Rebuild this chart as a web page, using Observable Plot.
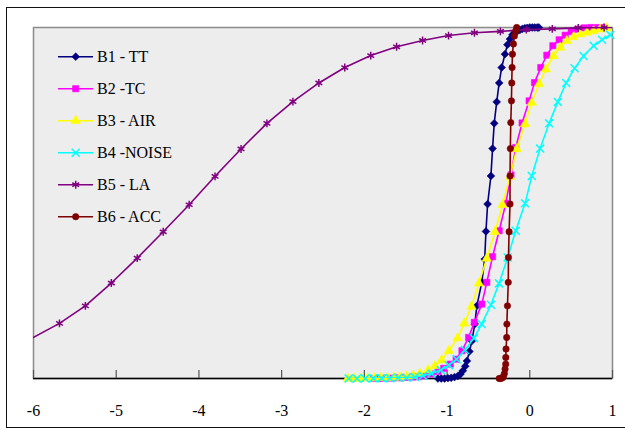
<!DOCTYPE html>
<html>
<head>
<meta charset="utf-8">
<script src="https://cdn.jsdelivr.net/npm/d3@7"></script>
<script src="https://cdn.jsdelivr.net/npm/@observablehq/plot@0.6"></script>
<style>
  html, body { margin: 0; padding: 0; background: #fff; }
  #wrap { position: relative; width: 625px; height: 430px; overflow: hidden; }
  #outer { position: absolute; left: 6px; top: 7px; width: 640px; height: 421px; box-sizing: border-box; border: 1.5px solid #111; }
  #chart { position: absolute; left: 0; top: 0; }
  #legend { position: absolute; left: 0; top: 0; }
</style>
</head>
<body>
<div id="wrap">
  <div id="outer"></div>
  <div id="chart"></div>
  <svg id="legend" width="625" height="430"></svg>
</div>
<script>
// ---- data (x, cumulative share) ----
const xTicks = [-6, -5, -4, -3, -2, -1, 0, 1];
const seriesNames = ["B1 - TT", "B2 -TC", "B3 - AIR", "B4 -NOISE", "B5 - LA", "B6 - ACC"];
const seriesColors = ["#000080", "#ff00ff", "#ffff00", "#00ffff", "#800080", "#800000"];
const seriesSymbols = ["diamond2", "square", "triangle", "times", "asterisk", "circle"];

const B1_TT = [
  [-1.11,0.000],[-1.07,0.000],[-1.03,0.000],[-0.99,0.001],[-0.95,0.002],[-0.91,0.004],
  [-0.87,0.007],[-0.84,0.012],[-0.81,0.022],[-0.78,0.035],[-0.76,0.050],[-0.73,0.077],
  [-0.70,0.107],[-0.665,0.155],[-0.64,0.207],[-0.58,0.274],[-0.545,0.340],[-0.53,0.419],
  [-0.51,0.497],[-0.47,0.577],[-0.45,0.655],[-0.43,0.727],[-0.40,0.788],[-0.37,0.842],
  [-0.34,0.886],[-0.30,0.924],[-0.27,0.951],[-0.24,0.967],[-0.21,0.979],[-0.18,0.986],
  [-0.15,0.990],[-0.12,0.993],[-0.09,0.996],[-0.06,0.998],[-0.03,0.999],[0.00,1.000],
  [0.03,1.000],[0.06,1.000],[0.09,1.000],[0.11,1.000]
];
const B2_TC = [
  [-1.90,0.000],[-1.82,0.000],[-1.74,0.001],[-1.66,0.001],[-1.58,0.002],[-1.50,0.003],
  [-1.42,0.004],[-1.35,0.005],[-1.27,0.008],[-1.19,0.013],[-1.11,0.020],[-1.04,0.029],
  [-0.96,0.041],[-0.89,0.055],[-0.82,0.079],[-0.74,0.117],[-0.67,0.160],[-0.58,0.212],
  [-0.52,0.274],[-0.45,0.347],[-0.37,0.421],[-0.29,0.499],[-0.227,0.580],[-0.17,0.658],
  [-0.093,0.728],[-0.008,0.791],[0.057,0.843],[0.133,0.886],[0.206,0.921],[0.279,0.948],
  [0.355,0.965],[0.428,0.978],[0.50,0.988],[0.582,0.995],[0.66,0.999],[0.74,1.000],
  [0.82,1.000],[0.90,1.000]
];
const B3_AIR = [
  [-2.20,0.000],[-2.12,0.000],[-2.04,0.000],[-1.96,0.001],[-1.88,0.001],[-1.80,0.002],
  [-1.72,0.002],[-1.64,0.003],[-1.57,0.004],[-1.49,0.006],[-1.41,0.008],[-1.33,0.014],
  [-1.23,0.024],[-1.148,0.036],[-1.067,0.052],[-0.978,0.079],[-0.873,0.115],[-0.792,0.157],
  [-0.705,0.205],[-0.615,0.271],[-0.521,0.342],[-0.42,0.418],[-0.33,0.495],[-0.239,0.575],
  [-0.158,0.654],[-0.057,0.725],[0.024,0.786],[0.113,0.839],[0.194,0.881],[0.287,0.919],
  [0.367,0.943],[0.448,0.962],[0.53,0.973],[0.61,0.981],[0.69,0.986],[0.77,0.990],
  [0.852,0.995],[0.93,0.998]
];
const B4_NOISE = [
  [-2.19,0.000],[-2.09,0.000],[-1.99,0.000],[-1.89,0.001],[-1.79,0.001],[-1.69,0.001],
  [-1.59,0.002],[-1.49,0.002],[-1.39,0.004],[-1.29,0.008],[-1.188,0.014],[-1.075,0.024],
  [-0.978,0.038],[-0.885,0.055],[-0.784,0.081],[-0.675,0.115],[-0.582,0.155],[-0.469,0.210],
  [-0.372,0.271],[-0.267,0.345],[-0.17,0.421],[-0.057,0.499],[0.024,0.577],[0.125,0.655],
  [0.234,0.727],[0.339,0.788],[0.44,0.842],[0.542,0.884],[0.65,0.919],[0.772,0.948],
  [0.873,0.965],[0.973,0.979],[1.08,0.988]
];
const B5_LA = [
  [-6.313,0.078],[-5.686,0.157],[-5.373,0.207],[-5.059,0.272],[-4.746,0.343],[-4.432,0.418],
  [-4.118,0.495],[-3.805,0.576],[-3.491,0.654],[-3.178,0.727],[-2.864,0.789],[-2.55,0.842],
  [-2.237,0.886],[-1.923,0.920],[-1.61,0.945],[-1.296,0.963],[-0.982,0.977],[-0.669,0.985],
  [-0.355,0.989],[-0.042,0.994],[0.272,0.996],[0.586,0.999],[0.899,1.000],[1.213,1.000]
];
const B6_ACC = [
  [-0.37,0.000],[-0.35,0.000],[-0.33,0.002],[-0.32,0.005],[-0.307,0.014],[-0.299,0.027],
  [-0.291,0.041],[-0.29,0.060],[-0.287,0.084],[-0.279,0.117],[-0.277,0.155],[-0.27,0.207],
  [-0.26,0.274],[-0.258,0.345],[-0.25,0.418],[-0.239,0.497],[-0.239,0.577],[-0.235,0.655],
  [-0.23,0.729],[-0.222,0.791],[-0.218,0.842],[-0.214,0.886],[-0.21,0.924],[-0.198,0.953],
  [-0.186,0.976],[-0.17,0.990],[-0.158,1.000]
];
const seriesData = [B1_TT, B2_TC, B3_AIR, B4_NOISE, B5_LA, B6_ACC];

// ---- build chart ----
const serif = "'Liberation Serif', 'Times New Roman', serif";
const X_MIN = -6, X_MAX = 1;
const strokeSymbols = new Set(["times", "asterisk"]);
const symbolR = sym => strokeSymbols.has(sym) ? 3.7 : (sym === "circle" ? 3.2 : 3.5);

const seriesMarks = seriesData.flatMap((pts, i) => {
  const rows = pts.map(([x, y]) => ({x, y}));
  const inside = rows.filter(d => d.x >= X_MIN && d.x <= X_MAX);
  const sym = seriesSymbols[i];
  const col = seriesColors[i];
  const dotOpts = strokeSymbols.has(sym)
    ? {x: "x", y: "y", r: symbolR(sym), stroke: col, strokeWidth: 1.5, fill: "none"}
    : {x: "x", y: "y", r: symbolR(sym), fill: col, stroke: col, strokeWidth: 0.6};
  return [
    Plot.line(rows, {x: "x", y: "y", stroke: col, strokeWidth: 1.6, clip: true}),
    Plot.dot(inside, {...dotOpts, symbol: sym})
  ];
});

const chart = Plot.plot({
  width: 625,
  height: 430,
  marginLeft: 33,
  marginRight: 13,
  marginTop: 27,
  marginBottom: 52,
  style: {background: "transparent", fontFamily: serif, color: "#000", overflow: "visible"},
  x: {domain: [X_MIN, X_MAX], label: null},
  y: {domain: [0, 1], axis: null, label: null},
  marks: [
    Plot.frame({fill: "#ededed", stroke: "#8a8a8a", strokeWidth: 1.5}),
    Plot.ruleY([0], {stroke: "#000", strokeWidth: 1.5}),
    Plot.axisX({ticks: xTicks, tickSize: 8, dy: -8, tickFormat: () => "", label: null, stroke: "#555", strokeWidth: 1.2}),
    Plot.axisX({ticks: xTicks, tickSize: 0, tickPadding: 26, tickFormat: d => String(d), label: null, fontSize: 16, fill: "#000", fontFamily: serif}),
    ...seriesMarks
  ]
});
document.getElementById("chart").appendChild(chart);

// ---- legend ----
const lg = d3.select("#legend");
const symMap = {diamond2: d3.symbolDiamond2, square: d3.symbolSquare, triangle: d3.symbolTriangle,
  times: d3.symbolTimes, asterisk: d3.symbolAsterisk, circle: d3.symbolCircle};
seriesNames.forEach((name, i) => {
  const cy = 56.7 + i * 32;
  const g = lg.append("g").attr("transform", `translate(0,${cy})`);
  g.append("line").attr("x1", 58).attr("x2", 93).attr("y1", 0).attr("y2", 0)
    .attr("stroke", seriesColors[i]).attr("stroke-width", 1.6);
  const sym = seriesSymbols[i];
  const r = symbolR(sym);
  const p = g.append("path").attr("transform", "translate(75.7,0)")
    .attr("d", d3.symbol(symMap[sym], Math.PI * r * r)());
  if (strokeSymbols.has(sym)) p.attr("fill", "none").attr("stroke", seriesColors[i]).attr("stroke-width", 1.5);
  else p.attr("fill", seriesColors[i]).attr("stroke", seriesColors[i]).attr("stroke-width", 0.6);
  g.append("text").attr("x", 97).attr("y", 5.6).attr("font-family", serif).attr("font-size", 16)
    .attr("fill", "#000").text(name);
});
</script>
</body>
</html>
